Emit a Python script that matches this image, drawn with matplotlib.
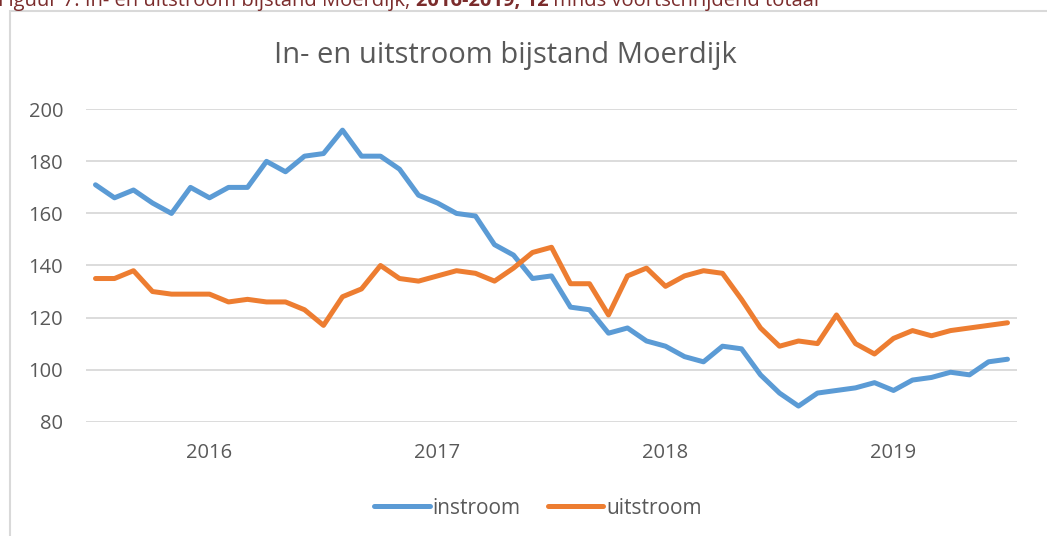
import matplotlib
matplotlib.use("Agg")
import matplotlib.pyplot as plt
from matplotlib.patches import Rectangle

plt.rcParams['font.family'] = ['Open Sans', 'DejaVu Sans']

# 49 maanden, 12 mnds voortschrijdend totaal
instroom = [171, 166, 169, 164, 160, 170, 166, 170, 170, 180, 176, 182, 183, 192, 182, 182,
            177, 167, 164, 160, 159, 148, 144, 135, 136, 124, 123, 114, 116, 111, 109, 105,
            103, 109, 108, 98, 91, 86, 91, 92, 93, 95, 92, 96, 97, 99, 98, 103, 104]
uitstroom = [135, 135, 138, 130, 129, 129, 129, 126, 127, 126, 126, 123, 117, 128, 131, 140,
             135, 134, 136, 138, 137, 134, 139, 145, 147, 133, 133, 121, 136, 139, 132, 136,
             138, 137, 127, 116, 109, 111, 110, 121, 110, 106, 112, 115, 113, 115, 116, 117, 118]
years = ['2016', '2017', '2018', '2019']
year_pos = [6, 18, 30, 42]
yticks = [80, 100, 120, 140, 160, 180, 200]

W, H = 1047, 536
fig = plt.figure(figsize=(W / 100, H / 100), dpi=100)
fig.patch.set_facecolor('white')

# kader van de grafiek
fig.patches.append(Rectangle((10 / W, -0.1), 1.1, 1 - 11 / H + 0.1, transform=fig.transFigure,
                             fill=False, edgecolor='#d9d9d9', linewidth=1.5))

ax = fig.add_axes([86 / W, 1 - 421.7 / H, (1017 - 86) / W, (421.7 - 109.3) / H])
x = list(range(len(instroom)))
ax.plot(x, instroom, color='#5b9bd5', linewidth=3.6, solid_joinstyle='round',
        solid_capstyle='round', label='instroom', zorder=3)
ax.plot(x, uitstroom, color='#ed7d31', linewidth=3.6, solid_joinstyle='round',
        solid_capstyle='round', label='uitstroom', zorder=3)

ax.set_xlim(-0.5, len(instroom) - 0.5)
ax.set_ylim(80, 200)
ax.set_yticks(yticks)
ax.set_xticks(year_pos)
ax.set_xticklabels(years)
ax.tick_params(length=0, labelsize=14.5, labelcolor='#595959')
ax.tick_params(axis='y', pad=16.5)
ax.tick_params(axis='x', pad=15)
ax.grid(axis='y', color='#d9d9d9', linewidth=1.3)
ax.set_axisbelow(True)
for s in ax.spines.values():
    s.set_visible(False)

fig.text(505 / W, 1 - 55 / H, 'In- en uitstroom bijstand Moerdijk', ha='center', va='center',
         fontsize=21, color='#595959')

ax.legend(loc='center', bbox_to_anchor=(538 / W, 1 - 508 / H), bbox_transform=fig.transFigure,
          ncol=2, frameon=False, fontsize=15, labelcolor='#595959', handlelength=2.65,
          handletextpad=0.15, columnspacing=1.3)

# bijschrift boven de grafiek (afgesneden)
fig.canvas.draw()
r = fig.canvas.get_renderer()
parts = [('Figuur 7: In- en uitstroom bijstand Moerdijk, ', 'normal'),
         ('2016-2019, 12', 'bold'),
         (' mnds voortschrijdend totaal', 'normal')]
xpos = -2 / W
for txt, w in parts:
    t = fig.text(xpos, 1 - 6 / H, txt, ha='left', va='baseline', fontsize=14.5,
                 fontweight=w, color='#7b2c2c')
    bb = t.get_window_extent(renderer=r)
    xpos = bb.x1 / W

fig.savefig('out.png', dpi=100)
